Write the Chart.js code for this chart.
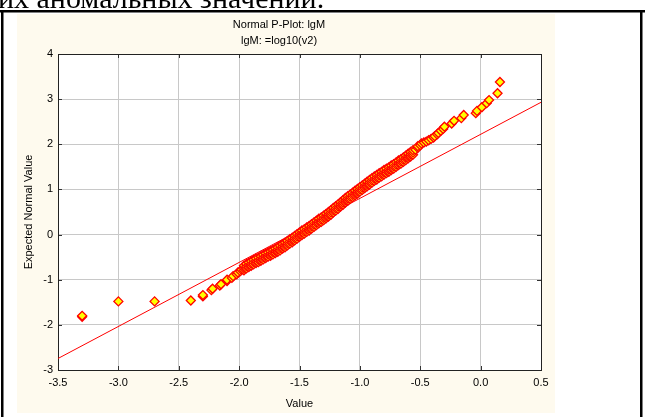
<!DOCTYPE html>
<html>
<head>
<meta charset="utf-8">
<script src="https://cdn.jsdelivr.net/npm/chart.js@4/dist/chart.umd.min.js"></script>
<style>
  html, body { margin: 0; padding: 0; background: #fff; }
  canvas { display: block; }
</style>
</head>
<body>
<canvas id="pplot" width="645" height="417"></canvas>
<script>
// lower tail: lgM value / expected normal value
const lowX = [-3.30, -3.30, -3.00, -2.70, -2.40, -2.30, -2.30, -2.23, -2.22, -2.16,
  -2.15, -2.10, -2.10, -2.06, -2.05, -2.02, -2.01, -1.99, -1.98];
const lowY = [-1.82, -1.80, -1.48, -1.48, -1.46, -1.37, -1.34, -1.23, -1.20, -1.13,
  -1.10, -1.03, -1.00, -0.96, -0.92, -0.88, -0.84, -0.81, -0.78];

// dense middle: each value carries a run of tied ranks (lowest / middle / highest expected value)
const bandX = [
  -1.96, -1.94, -1.92, -1.90, -1.88, -1.86, -1.84, -1.82, -1.80, -1.78,
  -1.76, -1.74, -1.72, -1.70, -1.68, -1.66, -1.64, -1.62, -1.60, -1.58,
  -1.56, -1.54, -1.52, -1.50, -1.48, -1.46, -1.44, -1.42, -1.40, -1.38,
  -1.36, -1.34, -1.32, -1.30, -1.28, -1.26, -1.24, -1.22, -1.20, -1.18,
  -1.16, -1.14, -1.12, -1.10, -1.08, -1.06, -1.04, -1.02, -1.00, -0.98,
  -0.96, -0.94, -0.92, -0.90, -0.88, -0.86, -0.84, -0.82, -0.80, -0.78,
  -0.76, -0.74, -0.72, -0.70, -0.68, -0.66, -0.64, -0.62, -0.60, -0.58, -0.56
];
const bandYLow = [
  -0.79, -0.75, -0.72, -0.69, -0.66, -0.63, -0.61, -0.58, -0.55, -0.52,
  -0.49, -0.47, -0.44, -0.41, -0.38, -0.35, -0.31, -0.28, -0.24, -0.20,
  -0.17, -0.13, -0.09, -0.05, -0.01, 0.02, 0.06, 0.09, 0.13, 0.17,
  0.21, 0.25, 0.28, 0.32, 0.36, 0.40, 0.44, 0.49, 0.53, 0.57,
  0.62, 0.66, 0.71, 0.75, 0.79, 0.83, 0.87, 0.91, 0.95, 0.99,
  1.03, 1.07, 1.11, 1.15, 1.19, 1.22, 1.26, 1.29, 1.33, 1.36,
  1.39, 1.43, 1.46, 1.50, 1.54, 1.57, 1.61, 1.65, 1.69, 1.73, 1.77
];
const bandYMid = [
  -0.74, -0.70, -0.67, -0.64, -0.61, -0.58, -0.56, -0.53, -0.50, -0.47,
  -0.44, -0.42, -0.39, -0.36, -0.33, -0.30, -0.26, -0.23, -0.19, -0.15,
  -0.12, -0.08, -0.04, 0.00, 0.04, 0.07, 0.11, 0.14, 0.18, 0.22,
  0.26, 0.30, 0.33, 0.37, 0.41, 0.45, 0.49, 0.54, 0.58, 0.62,
  0.67, 0.71, 0.76, 0.80, 0.84, 0.88, 0.92, 0.96, 1.00, 1.04,
  1.08, 1.12, 1.16, 1.20, 1.24, 1.27, 1.31, 1.34, 1.38, 1.41,
  1.44, 1.48, 1.51, 1.55, 1.59, 1.62, 1.66, 1.70, 1.74, 1.78, 1.82
];
const bandYHigh = [
  -0.69, -0.65, -0.62, -0.59, -0.56, -0.53, -0.51, -0.48, -0.45, -0.42,
  -0.39, -0.37, -0.34, -0.31, -0.28, -0.25, -0.21, -0.18, -0.14, -0.10,
  -0.07, -0.03, 0.01, 0.05, 0.09, 0.12, 0.16, 0.19, 0.23, 0.27,
  0.31, 0.35, 0.38, 0.42, 0.46, 0.50, 0.54, 0.59, 0.63, 0.67,
  0.72, 0.76, 0.81, 0.85, 0.89, 0.93, 0.97, 1.01, 1.05, 1.09,
  1.13, 1.17, 1.21, 1.25, 1.29, 1.32, 1.36, 1.39, 1.43, 1.46,
  1.49, 1.53, 1.56, 1.60, 1.64, 1.67, 1.71, 1.75, 1.79, 1.83, 1.87
];

// upper tail
const highX = [-0.54, -0.52, -0.52, -0.50, -0.49, -0.47, -0.45, -0.43, -0.41, -0.39,
  -0.38, -0.36, -0.35, -0.33, -0.31, -0.30, -0.24, -0.22, -0.16, -0.14,
  -0.04, -0.03, 0.01, 0.05, 0.07, 0.14, 0.16];
const highY = [1.88, 1.92, 1.96, 1.98, 2.02, 2.04, 2.06, 2.09, 2.12, 2.15,
  2.18, 2.22, 2.25, 2.30, 2.34, 2.39, 2.46, 2.52, 2.58, 2.65,
  2.69, 2.74, 2.82, 2.91, 2.98, 3.13, 3.38];

// reference normal line
const fitX = [-3.5, 0.5];
const fitY = [-2.745, 2.93];

const xTicks = [-3.5, -3.0, -2.5, -2.0, -1.5, -1.0, -0.5, 0.0, 0.5];
const yTicks = [-3, -2, -1, 0, 1, 2, 3, 4];

const titleText = 'Normal P-Plot: lgM';
const subtitleText = 'lgM: =log10(v2)';
const xTitle = 'Value';
const yTitle = 'Expected Normal Value';
const pageLine = 'их аномальных значений.';

const points = [];
lowX.forEach((x, i) => points.push({ x: x, y: lowY[i] }));
bandX.forEach((x, i) => {
  points.push({ x: x, y: bandYLow[i] });
  points.push({ x: x, y: bandYMid[i] });
  points.push({ x: x, y: bandYHigh[i] });
});
highX.forEach((x, i) => points.push({ x: x, y: highY[i] }));
const linePts = fitX.map((x, i) => ({ x: x, y: fitY[i] }));

Chart.defaults.font.family = '"Liberation Sans", Arial, sans-serif';
Chart.defaults.font.size = 11;
Chart.defaults.color = '#000';

// page background, text line above, black frame, cream panel, plot border
const pagePlugin = {
  id: 'page',
  beforeDraw(chart) {
    const ctx = chart.ctx;
    const a = chart.chartArea;
    ctx.save();
    ctx.fillStyle = '#fff';
    ctx.fillRect(0, 0, chart.width, chart.height);

    ctx.fillStyle = '#000';
    ctx.font = '30px "Liberation Serif", "DejaVu Serif", serif';
    ctx.textBaseline = 'alphabetic';
    ctx.fillText(pageLine, -2, 7.5);

    ctx.fillRect(0, 10, 645, 2.5);
    ctx.fillRect(1, 10, 2.5, 407);
    ctx.fillRect(640, 10, 2.5, 407);

    ctx.fillStyle = '#fefaee';
    ctx.fillRect(17, 14, 538, 399);
    ctx.fillStyle = '#fff';
    ctx.fillRect(a.left, a.top, a.right - a.left, a.bottom - a.top);
    ctx.restore();
  },
  beforeDatasetsDraw(chart) {
    const ctx = chart.ctx;
    const a = chart.chartArea;
    const sx = chart.scales.x, sy = chart.scales.y;
    ctx.save();
    ctx.strokeStyle = '#333';
    ctx.lineWidth = 1;
    ctx.beginPath();
    xTicks.forEach(v => {
      const px = Math.round(sx.getPixelForValue(v)) + 0.5;
      ctx.moveTo(px, a.top); ctx.lineTo(px, a.top + 4);
      ctx.moveTo(px, a.bottom); ctx.lineTo(px, a.bottom - 4);
    });
    yTicks.forEach(v => {
      const py = Math.round(sy.getPixelForValue(v)) + 0.5;
      ctx.moveTo(a.left, py); ctx.lineTo(a.left + 4, py);
      ctx.moveTo(a.right, py); ctx.lineTo(a.right - 4, py);
    });
    ctx.stroke();
    ctx.strokeStyle = '#222';
    ctx.strokeRect(Math.round(a.left) + 0.5, Math.round(a.top) + 0.5,
      Math.round(a.right - a.left), Math.round(a.bottom - a.top));
    ctx.restore();
  }
};

new Chart(document.getElementById('pplot'), {
  type: 'scatter',
  data: {
    datasets: [
      {
        type: 'line',
        data: linePts,
        borderColor: '#ff0000',
        borderWidth: 1,
        pointRadius: 0,
        fill: false,
        order: 2
      },
      {
        data: points,
        pointStyle: 'rectRot',
        pointRadius: 4.5,
        backgroundColor: '#ffff00',
        borderColor: '#ff0000',
        borderWidth: 1.3,
        order: 1
      }
    ]
  },
  options: {
    responsive: false,
    animation: false,
    devicePixelRatio: 1,
    layout: { padding: { left: 17, right: 104, top: 14, bottom: 4 } },
    plugins: {
      legend: { display: false },
      tooltip: { enabled: false },
      title: {
        display: true,
        text: titleText,
        font: { size: 11, weight: 'normal' },
        padding: { top: 4, bottom: 3 }
      },
      subtitle: {
        display: true,
        text: subtitleText,
        color: '#000',
        font: { size: 11 },
        padding: { top: 0, bottom: 6.6 }
      }
    },
    scales: {
      x: {
        type: 'linear',
        min: -3.5,
        max: 0.5,
        afterBuildTicks: s => { s.ticks = xTicks.map(v => ({ value: v })); },
        afterFit: s => { s.height = 43; },
        grid: { color: '#c8c8c8', drawTicks: false },
        border: { display: false },
        ticks: { padding: 6, maxRotation: 0, callback: v => v.toFixed(1) },
        title: { display: true, text: xTitle, padding: { top: 0, bottom: 2.4 } }
      },
      y: {
        type: 'linear',
        min: -3,
        max: 4,
        afterBuildTicks: s => { s.ticks = yTicks.map(v => ({ value: v })); },
        afterFit: s => { s.width = 41; },
        grid: { color: '#c8c8c8', drawTicks: false },
        border: { display: false },
        ticks: { padding: 5, callback: v => String(v) },
        title: { display: true, text: yTitle, padding: { top: 5.4, bottom: 0 } }
      }
    }
  },
  plugins: [pagePlugin]
});
</script>
</body>
</html>
